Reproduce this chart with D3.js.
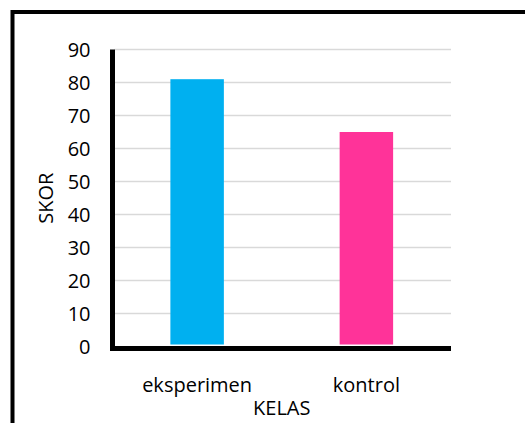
<!DOCTYPE html>
<html>
<head>
<meta charset="utf-8">
<script src="https://cdn.jsdelivr.net/npm/d3@7"></script>
<style>
  body { margin: 0; background: #fff; }
  svg text { font-family: "Open Sans", sans-serif; font-size: 20px; fill: #000; }
</style>
</head>
<body>
<svg class="chart" width="525" height="423"></svg>
<script>
const categories = ["eksperimen", "kontrol"]
const scores = [81, 65]
const yTicks = [0, 10, 20, 30, 40, 50, 60, 70, 80, 90]
const colors = ["#00b0f0", "#ff3399"]

var margin = {top: 49.5, right: 74, bottom: 76, left: 112.5}
    , width = 525 - margin.left - margin.right
    , height = 423 - margin.top - margin.bottom;

var svg = d3.select(".chart")

// outer frame (runs off the right and bottom edge)
svg.append("rect")
    .attr("x", 12.5)
    .attr("y", 12)
    .attr("width", 560)
    .attr("height", 460)
    .attr("fill", "none")
    .attr("stroke", "#000")
    .attr("stroke-width", 4)

var graph = svg.append("g")
    .attr("transform", "translate(" + margin.left + "," + margin.top + ")")

var xScale = d3.scaleBand()
    .domain(categories)
    .range([0, width])
    .paddingInner(0.684)
    .paddingOuter(0.342)

var yScale = d3.scaleLinear()
    .domain([0, 90])
    .range([height - 0.5, 0])

// gridlines
graph.append("g")
    .selectAll("line")
    .data(yTicks.filter(d => d > 0))
    .join("line")
    .attr("x1", 2)
    .attr("x2", width)
    .attr("y1", d => yScale(d))
    .attr("y2", d => yScale(d))
    .attr("stroke", "#d9d9d9")
    .attr("stroke-width", 1.5)

// bars
graph.selectAll(".bar")
    .data(scores)
    .join("rect")
    .attr("class", "bar")
    .attr("x", (d, i) => xScale(categories[i]))
    .attr("width", xScale.bandwidth())
    .attr("y", d => yScale(d))
    .attr("height", d => yScale(0) - 2 - yScale(d))
    .attr("fill", (d, i) => colors[i])

// y axis
var yAxis = graph.append("g")
    .call(d3.axisLeft(yScale).tickValues(yTicks).tickSize(0).tickPadding(22))
yAxis.select(".domain").remove()
yAxis.selectAll("text").attr("dy", "0.35em")

// x axis
var xAxis = graph.append("g")
    .attr("transform", "translate(0," + height + ")")
    .call(d3.axisBottom(xScale).tickSize(0).tickPadding(31))
xAxis.select(".domain").remove()

// thick axis lines
graph.append("path")
    .attr("d", "M0,0V" + (height + 1) + "M-2.5," + (height + 1.5) + "H" + width)
    .attr("fill", "none")
    .attr("stroke", "#000")
    .attr("stroke-width", 5)

svg.append("text")
    .attr("transform", "translate(53," + (margin.top + height / 2) + ") rotate(-90)")
    .attr("text-anchor", "middle")
    .text("SKOR")

svg.append("text")
    .attr("x", margin.left + width / 2)
    .attr("y", 415)
    .attr("text-anchor", "middle")
    .text("KELAS")
</script>
</body>
</html>
